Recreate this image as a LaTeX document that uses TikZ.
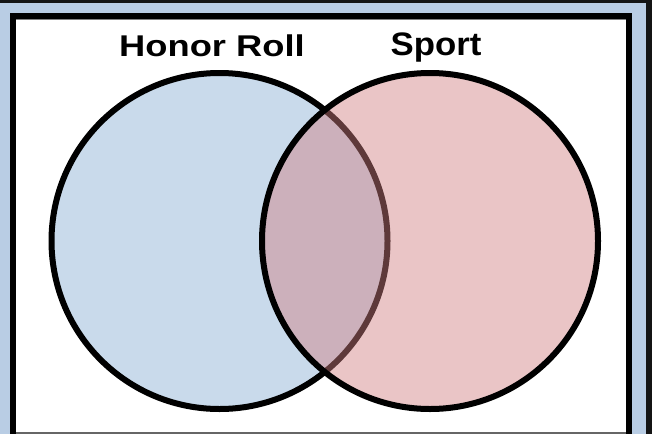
\documentclass[tikz,border=0pt]{standalone}
\usepackage{graphicx}
\usepackage{fontspec}
\newfontfamily\arialf{Liberation Sans}
\definecolor{bgblue}{RGB}{185,205,228}
\definecolor{hrblue}{RGB}{201,218,235}
\definecolor{sppink}{RGB}{209,127,129}
\definecolor{framedark}{RGB}{20,20,20}
\tikzset{
  venn/.style={circle, minimum size=336pt, inner sep=0pt, draw=black, line width=6pt},
  lbl/.style={anchor=base, inner sep=0pt, font=\arialf\bfseries}
}
\begin{document}
\begin{tikzpicture}[x=1pt,y=-1pt]
\useasboundingbox (0,0) rectangle (652,434);
% background frame
\fill[bgblue] (0,0) rectangle (652,434);
\fill[framedark] (0,0) rectangle (652,2.5);
\fill[framedark] (646,0) rectangle (652,434);
\fill[black] (10,13) rectangle (632,434);
\fill[white] (16,19) rectangle (626,434);
\fill[gray] (16,19) rectangle (626,20);
\fill[gray!80!black] (16,432) rectangle (626,434);
% circles
\node[venn, fill=hrblue] (honor) at (219.5,241) {};
\node[venn, fill=sppink, fill opacity=0.45, draw opacity=1] (sport) at (430,241) {};
% labels
\node[lbl] (honorlbl) at (212,56.5) {\fontsize{30pt}{32pt}\selectfont\scalebox{1.21}[1]{Honor Roll}};
\node[lbl] (sportlbl) at (436,55) {\fontsize{32.5pt}{34pt}\selectfont\scalebox{1.07}[1]{Sport}};
\end{tikzpicture}
\end{document}
